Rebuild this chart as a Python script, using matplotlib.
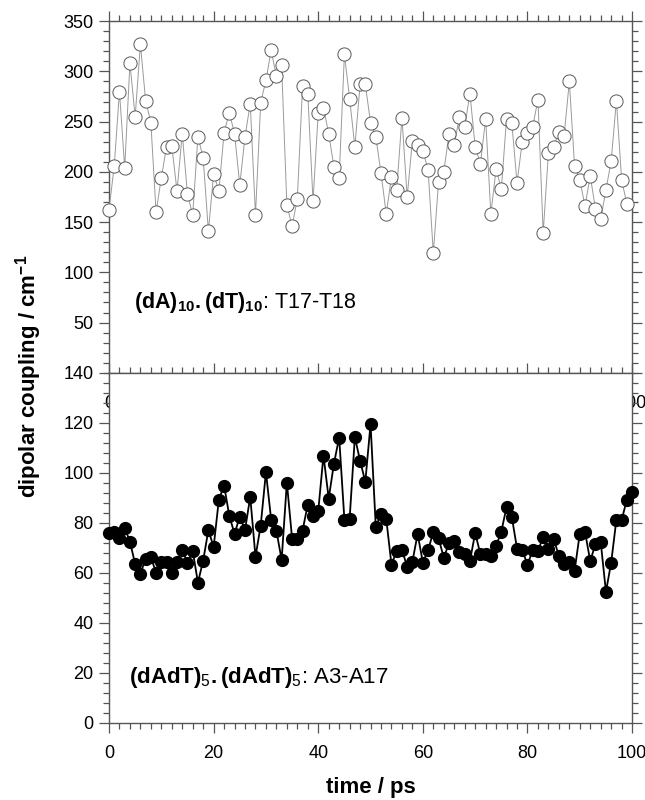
import numpy as np
import matplotlib
matplotlib.use('Agg')
import matplotlib.pyplot as plt
from matplotlib.ticker import MultipleLocator

plt.rcParams['font.family'] = ['Liberation Sans', 'DejaVu Sans']
plt.rcParams['mathtext.fontset'] = 'custom'
plt.rcParams['mathtext.rm'] = 'Liberation Sans'
plt.rcParams['mathtext.bf'] = 'Liberation Sans:bold'
plt.rcParams['mathtext.it'] = 'Liberation Sans:italic'

# top panel: (dA)10.(dT)10, T17-T18, one value per ps (0..99)
t_top = np.arange(0, 100)
c_top = [162, 206, 280, 204, 308, 255, 327, 271, 249, 160,
         194, 225, 226, 181, 238, 178, 157, 235, 214, 141,
         198, 181, 239, 259, 238, 187, 235, 268, 157, 269,
         291, 321, 295, 306, 167, 146, 173, 285, 278, 171,
         259, 264, 238, 205, 194, 317, 273, 225, 287, 287,
         249, 235, 199, 158, 195, 182, 254, 175, 231, 227,
         221, 202, 119, 190, 200, 238, 227, 255, 245, 278,
         225, 208, 253, 158, 203, 183, 253, 249, 189, 230,
         239, 245, 272, 139, 219, 225, 240, 236, 290, 206,
         192, 166, 196, 163, 153, 182, 211, 271, 192, 168]

# bottom panel: (dAdT)5.(dAdT)5, A3-A17 (0..100)
t_bot = np.arange(0, 101)
c_bot = [76.1, 76.5, 74.0, 77.9, 72.5, 63.5, 59.6, 65.7, 66.3, 60.0,
         64.5, 64.5, 60.0, 64.5, 69.2, 64.0, 68.8, 56.1, 64.9, 77.1,
         70.3, 89.3, 94.9, 82.8, 75.6, 82.5, 77.1, 90.4, 66.4, 78.9,
         100.3, 81.2, 76.8, 65.2, 96.1, 73.7, 73.7, 76.9, 87.3, 82.7,
         84.7, 106.9, 89.7, 103.7, 114.1, 81.3, 81.6, 114.3, 104.8, 96.4,
         119.5, 78.4, 83.5, 81.5, 63.3, 68.7, 69.1, 62.5, 64.5, 75.5,
         64.1, 69.1, 76.3, 73.9, 66.0, 71.9, 72.7, 68.3, 67.5, 64.7,
         75.9, 67.5, 67.5, 66.8, 70.8, 76.5, 86.3, 82.4, 69.7, 69.1,
         63.2, 69.1, 68.8, 74.3, 69.6, 73.5, 66.9, 63.6, 64.3, 60.7,
         75.7, 76.3, 64.7, 71.6, 72.3, 52.4, 64.1, 81.3, 81.1, 89.3,
         92.5]

fig = plt.figure(figsize=(6.45, 8), dpi=100)
left, width = 0.169, 0.811
ax1 = fig.add_axes([left, 0.534, width, 0.4395])
ax2 = fig.add_axes([left, 0.0965, width, 0.4375])

frame = '#555555'
for ax in (ax1, ax2):
    for s in ax.spines.values():
        s.set_color(frame)
        s.set_linewidth(1.0)
    ax.set_xlim(0, 100)
    ax.xaxis.set_major_locator(MultipleLocator(20))
    ax.xaxis.set_minor_locator(MultipleLocator(2))
    ax.tick_params(which='both', direction='out', top=True, right=True,
                   color=frame, width=0.9, labelsize=13, pad=9)
    ax.tick_params(which='major', length=7)
    ax.tick_params(which='minor', length=4)
    ax.tick_params(axis='y', pad=4)

ax1.plot(t_top, c_top, color='#9a9a9a', lw=0.7, marker='o', ms=9.5,
         mfc='white', mec='#5a5a5a', mew=0.7, clip_on=False, zorder=3)
ax1.set_ylim(0, 350)
ax1.set_yticks(np.arange(50, 351, 50))
ax1.yaxis.set_minor_locator(MultipleLocator(10))
ax1.text(4.8, 70, r'$\mathbf{(dA)_{10}.(dT)_{10}}$: T17-T18', fontsize=15.5,
         va='center', ha='left')

ax2.plot(t_bot, c_bot, color='black', lw=1.3, marker='o', ms=8.5,
         mfc='black', mec='black', clip_on=False, zorder=3)
ax2.set_ylim(0, 140)
ax2.set_yticks(np.arange(0, 141, 20))
ax2.yaxis.set_minor_locator(MultipleLocator(4))
ax2.text(3.8, 18, r'$\mathbf{(dAdT)}_{\mathrm{5}}\mathbf{.(dAdT)}_{\mathrm{5}}$: A3-A17',
         fontsize=16, va='center', ha='left')

fig.text(0.045, 0.53, r'dipolar coupling / cm$^{\mathbf{-1}}$', rotation=90,
         fontsize=16, fontweight='bold', ha='center', va='center')
fig.text(0.575, 0.015, 'time / ps', fontsize=16, fontweight='bold',
         ha='center', va='center')

plt.savefig('out.png', dpi=100)
